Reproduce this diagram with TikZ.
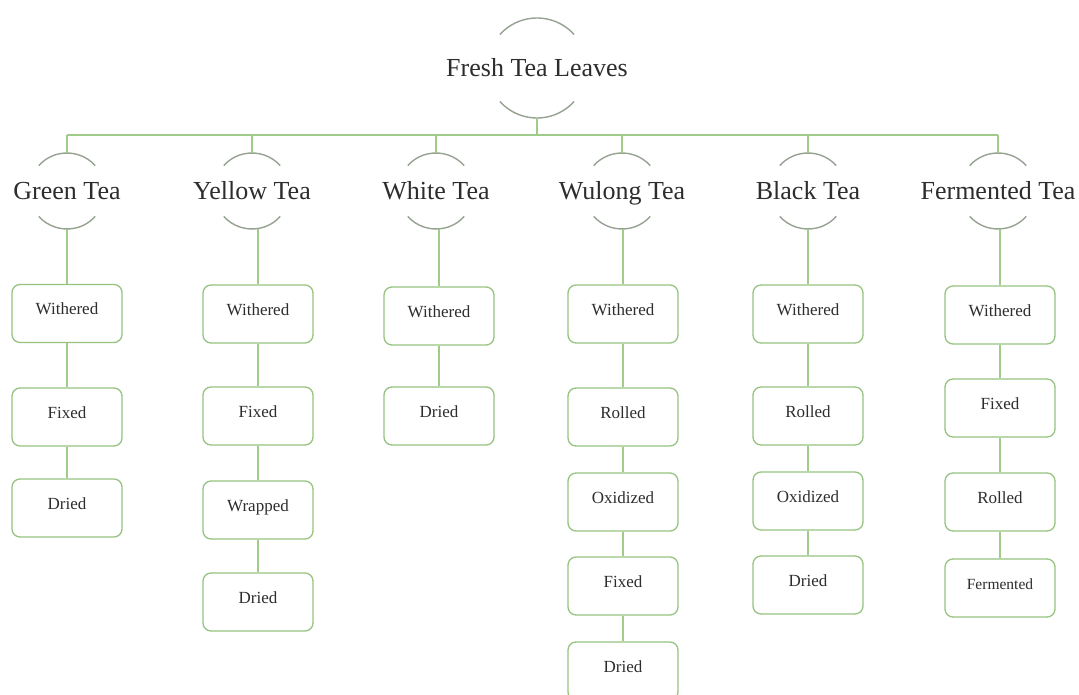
\documentclass[tikz,border=0pt]{standalone}
\usepackage{fontspec}
\setmainfont{Liberation Serif}
\definecolor{lgreen}{RGB}{160,204,138}
\definecolor{bgreen}{RGB}{150,196,128}
\definecolor{agray}{RGB}{150,162,146}
\definecolor{txt}{RGB}{45,45,45}
\newcommand{\teaarcs}[2]{%
  \draw[arcline] ([shift={(42:#2)}]#1.center) arc[start angle=42,end angle=138,radius=#2];
  \draw[arcline] ([shift={(222:#2)}]#1.center) arc[start angle=222,end angle=318,radius=#2];}
\begin{document}
\begin{tikzpicture}[x=1pt,y=-1pt,
  link/.style={draw=lgreen, line width=1.3pt},
  arcline/.style={draw=agray, line width=1.4pt},
  stepbox/.style={draw=bgreen, line width=1.3pt, rounded corners=8pt,
    minimum width=110pt, minimum height=58pt, inner sep=0pt,
    font=\fontsize{17}{20}\selectfont, text=txt, text height=12pt, text depth=10pt},
  cat/.style={font=\fontsize{26}{30}\selectfont, text=txt, inner sep=0pt,
    text height=18pt, text depth=0pt}]
\useasboundingbox (0,0) rectangle (1079,695);
\clip (0,0) rectangle (1079,695);
\fill[white] (0,0) rectangle (1079,695);

% root
\node[cat] (root) at (537,68) {Fresh Tea Leaves};
\teaarcs{root}{50pt}
\coordinate (root-bot) at ([yshift=-50pt]root.center);
\coordinate (busM) at (537,135);
\coordinate (busL) at (67,135);
\coordinate (busR) at (998,135);
\draw[link] (root-bot) -- (busM);
\draw[link] (busL) -- (busR);

% categories
\foreach \n/\x/\t in {g/67/Green Tea, y/252/Yellow Tea, w/436/White Tea, u/622/Wulong Tea, k/808/Black Tea, f/998/Fermented Tea}{
  \node[cat] (\n) at (\x,191) {\t};
  \teaarcs{\n}{38pt}
  \coordinate (\n-top) at ([yshift=38pt]\n.center);
  \coordinate (\n-bot) at ([yshift=-38pt]\n.center);
  \draw[link] (\n-top |- busL) -- (\n-top);
}

% Green tea
\node[stepbox] (g1) at (67,313.5) {Withered};
\node[stepbox] (g2) at (67,417) {Fixed};
\node[stepbox] (g3) at (67,508) {Dried};
\draw[link] (g1.north |- g-bot) -- (g1.north);
\draw[link] (g1) -- (g2);
\draw[link] (g2) -- (g3);

% Yellow tea
\node[stepbox] (y1) at (258,314) {Withered};
\node[stepbox] (y2) at (258,416) {Fixed};
\node[stepbox] (y3) at (258,510) {Wrapped};
\node[stepbox] (y4) at (258,602) {Dried};
\draw[link] (y1.north |- y-bot) -- (y1.north);
\draw[link] (y1) -- (y2);
\draw[link] (y2) -- (y3);
\draw[link] (y3) -- (y4);

% White tea
\node[stepbox] (w1) at (439,316) {Withered};
\node[stepbox] (w2) at (439,416) {Dried};
\draw[link] (w1.north |- w-bot) -- (w1.north);
\draw[link] (w1) -- (w2);

% Wulong tea
\node[stepbox] (u1) at (623,314) {Withered};
\node[stepbox] (u2) at (623,417) {Rolled};
\node[stepbox] (u3) at (623,502) {Oxidized};
\node[stepbox] (u4) at (623,586) {Fixed};
\node[stepbox] (u5) at (623,671) {Dried};
\draw[link] (u1.north |- u-bot) -- (u1.north);
\draw[link] (u1) -- (u2);
\draw[link] (u2) -- (u3);
\draw[link] (u3) -- (u4);
\draw[link] (u4) -- (u5);

% Black tea
\node[stepbox] (k1) at (808,314) {Withered};
\node[stepbox] (k2) at (808,416) {Rolled};
\node[stepbox] (k3) at (808,501) {Oxidized};
\node[stepbox] (k4) at (808,585) {Dried};
\draw[link] (k1.north |- k-bot) -- (k1.north);
\draw[link] (k1) -- (k2);
\draw[link] (k2) -- (k3);
\draw[link] (k3) -- (k4);

% Fermented tea
\node[stepbox] (f1) at (1000,315) {Withered};
\node[stepbox] (f2) at (1000,408) {Fixed};
\node[stepbox] (f3) at (1000,502) {Rolled};
\node[stepbox, font=\fontsize{15.5}{18}\selectfont] (f4) at (1000,588) {Fermented};
\draw[link] (f1.north |- f-bot) -- (f1.north);
\draw[link] (f1) -- (f2);
\draw[link] (f2) -- (f3);
\draw[link] (f3) -- (f4);
\end{tikzpicture}
\end{document}
